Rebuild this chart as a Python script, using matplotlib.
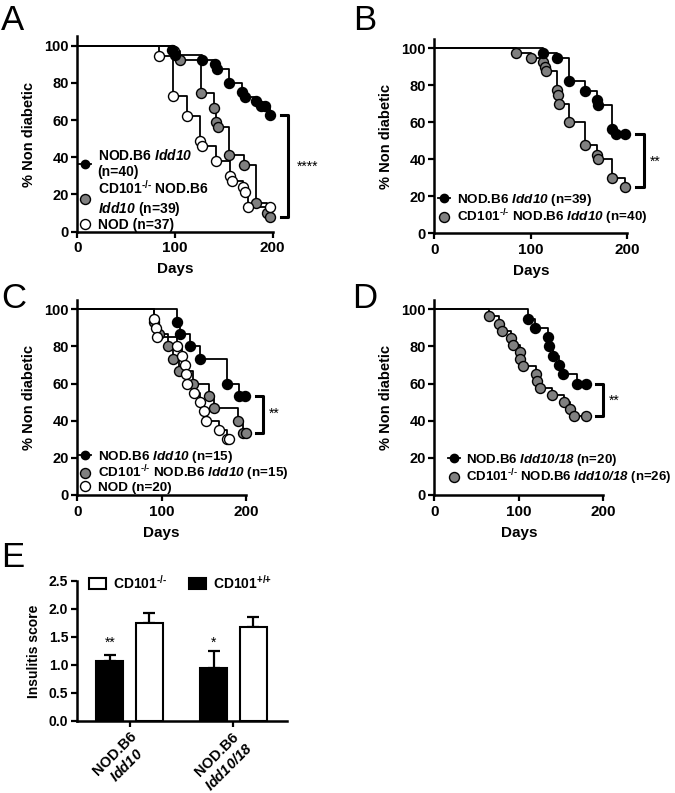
import numpy as np
import matplotlib
matplotlib.use("Agg")
from matplotlib import pyplot as plt
from matplotlib.lines import Line2D
from matplotlib.patches import Patch

plt.rcParams['font.family'] = ['Liberation Sans', 'DejaVu Sans']
plt.rcParams['font.weight'] = 'bold'
plt.rcParams['axes.labelweight'] = 'bold'
plt.rcParams['mathtext.fontset'] = 'custom'
plt.rcParams['mathtext.rm'] = 'Liberation Sans:bold'
plt.rcParams['mathtext.sf'] = 'Liberation Sans:italic:bold'
plt.rcParams['mathtext.it'] = 'Liberation Sans:italic:bold'
plt.rcParams['mathtext.bf'] = 'Liberation Sans:bold'

# Survival data: event/censor days and % non diabetic after each step
# Panel A
a_idd10_t = [97, 100, 128, 141, 143, 155, 169, 172, 183, 188, 192, 197]
a_idd10_s = [97.5, 95, 92.5, 90, 87.5, 80, 75, 72.5, 70, 67.5, 67.5, 62.5]
a_ko_t = [99, 105, 127, 140, 142, 144, 155, 171, 183, 194, 197]
a_ko_s = [97.4, 92.3, 74.4, 66.7, 59, 56.4, 41, 35.9, 15.4, 10.3, 7.7]
a_nod_t = [84, 98, 112, 126, 128, 142, 156, 158, 170, 172, 175, 197]
a_nod_s = [94.6, 73, 62.2, 48.6, 45.9, 37.8, 29.7, 27, 24.3, 21.6, 13.5, 13.5]

# Panel B
b_idd10_t = [113, 127, 140, 156, 169, 170, 184, 188, 198]
b_idd10_s = [97.4, 94.9, 82.1, 76.9, 71.8, 69.2, 56.4, 53.8, 53.8]
b_ko_t = [85, 100, 113, 115, 116, 127, 128, 129, 140, 156, 169, 170, 184, 198]
b_ko_s = [97.5, 95, 92.5, 90, 87.5, 77.5, 75, 70, 60, 47.5, 42.5, 40, 30, 25]

# Panel C
c_idd10_t = [118, 122, 134, 145, 178, 192, 199]
c_idd10_s = [93.3, 86.7, 80, 73.3, 60, 53.3, 53.3]
c_ko_t = [91, 97, 107, 113, 120, 137, 156, 162, 190, 196, 200]
c_ko_s = [93.3, 86.7, 80, 73.3, 66.7, 60, 53.3, 46.7, 40, 33.3, 33.3]
c_nod_t = [91, 93, 94, 118, 124, 128, 129, 130, 138, 146, 150, 153, 168, 177, 180]
c_nod_s = [95, 90, 85, 80, 75, 70, 65, 60, 55, 50, 45, 40, 35, 30, 30]

# Panel D
d_idd1018_t = [111, 119, 135, 136, 141, 148, 152, 169, 180]
d_idd1018_s = [95, 90, 85, 80, 75, 70, 65, 60, 60]
d_ko_t = [65, 77, 80, 91, 93, 101, 102, 105, 120, 121, 125, 139, 153, 161, 165, 180]
d_ko_s = [96.2, 92.3, 88.5, 84.6, 80.8, 76.9, 73.1, 69.2, 65.4, 61.5, 57.7, 53.8,
          50, 46.2, 42.3, 42.3]

# Panel E: insulitis score
e_groups = ["NOD.B6\n$\\mathsf{Idd10}$", "NOD.B6\n$\\mathsf{Idd10/18}$"]
e_wt = [1.08, 0.95]
e_wt_err = [0.09, 0.30]
e_ko = [1.75, 1.68]
e_ko_err = [0.18, 0.18]
e_stars = ["**", "*"]

GRAY = '#808080'
KO = "CD101$^{\\text{-/-}}$"
I10 = "$\\mathsf{Idd10}$"
I1018 = "$\\mathsf{Idd10/18}$"

W, H = 675, 793
fig = plt.figure(figsize=(W / 100, H / 100), dpi=100)


def px_axes(left, right, bottom, top):
    return fig.add_axes([left / W, 1 - bottom / H, (right - left) / W, (bottom - top) / H])


def style_km(ax):
    ax.set_xlim(0, 200)
    ax.set_ylim(0, 105)
    ax.set_xticks([0, 100, 200])
    ax.set_yticks([0, 20, 40, 60, 80, 100])
    for s in ['top', 'right']:
        ax.spines[s].set_visible(False)
    for s in ['left', 'bottom']:
        ax.spines[s].set_linewidth(1.8)
    ax.tick_params(direction='out', length=4, width=1.6)
    ax.tick_params(axis='x', labelsize=11, pad=3)
    ax.tick_params(axis='y', labelsize=10.5, pad=2)
    ax.set_xlabel("Days", fontsize=11, labelpad=5)
    ax.set_ylabel("% Non diabetic", fontsize=10.5, labelpad=6)


def km(ax, t, s, fc, z):
    ax.step([0] + t, [100] + s, where='post', color='k', lw=1.3, zorder=2)
    ax.plot(t, s, 'o', ms=7.2, mfc=fc, mec='k', mew=1, ls='none', zorder=z, clip_on=False)


def bracket(ax, x, xt, y1, y2, label, ylab, dx):
    ax.plot([xt, x, x, xt], [y1, y1, y2, y2], color='k', lw=2.2, clip_on=False)
    ax.text(x + dx, ylab, label, fontsize=10, fontweight='normal', va='center', clip_on=False)


def handle(fc):
    if fc == 'k':
        return Line2D([], [], color='k', lw=1.3, marker='o', ms=6, mfc='k', mec='k')
    return Line2D([], [], ls='none', marker='o', ms=7.2, mfc=fc, mec='k', mew=1)


def km_legend(ax, fcs, labels, bx, by, spacing, fs):
    ax.legend([handle(f) for f in fcs], labels, loc='lower left', bbox_to_anchor=(bx, by),
              frameon=False, fontsize=fs, borderpad=0, borderaxespad=0, handlelength=0.9,
              handletextpad=0.5, labelspacing=spacing)


# A
axA = px_axes(77.3, 272.7, 231.7, 36.4)
style_km(axA)
km(axA, a_ko_t, a_ko_s, GRAY, 3)
km(axA, a_idd10_t, a_idd10_s, 'k', 4)
km(axA, a_nod_t, a_nod_s, 'white', 5)
bracket(axA, 215.5, 208, 62.5, 7.7, "****", 34.8, 9)
km_legend(axA, ['k', GRAY, 'white'],
          ["NOD.B6 " + I10 + "\n(n=40)", KO + " NOD.B6\n" + I10 + " (n=39)", "NOD (n=37)"],
          0.005, 0.0, 0.0, 10)

# B
axB = px_axes(434.3, 627.3, 233.3, 39.0)
style_km(axB)
km(axB, b_ko_t, b_ko_s, GRAY, 3)
km(axB, b_idd10_t, b_idd10_s, 'k', 4)
bracket(axB, 217, 209.5, 53.8, 25, "**", 38.7, 6)
km_legend(axB, ['k', GRAY],
          ["NOD.B6 " + I10 + " (n=39)", KO + " NOD.B6 " + I10 + " (n=40)"],
          0.02, 0.03, 0.0, 9.7)

# C
axC = px_axes(77.3, 246.0, 495.0, 300.0)
style_km(axC)
km(axC, c_idd10_t, c_idd10_s, 'k', 3)
km(axC, c_ko_t, c_ko_s, GRAY, 4)
km(axC, c_nod_t, c_nod_s, 'white', 5)
bracket(axC, 220.5, 212, 53.3, 33.3, "**", 44, 7)
km_legend(axC, ['k', GRAY, 'white'],
          ["NOD.B6 " + I10 + " (n=15)", KO + " NOD.B6 " + I10 + " (n=15)", "NOD (n=20)"],
          0.012, 0.005, -0.1, 9.7)

# D
axD = px_axes(434.3, 603.3, 495.0, 300.0)
style_km(axD)
km(axD, d_ko_t, d_ko_s, GRAY, 3)
km(axD, d_idd1018_t, d_idd1018_s, 'k', 4)
bracket(axD, 199.3, 191.5, 60, 42.3, "**", 51, 7)
km_legend(axD, ['k', GRAY],
          ["NOD.B6 " + I1018 + " (n=20)", KO + " NOD.B6 " + I1018 + " (n=26)"],
          0.08, 0.04, 0.0, 9.5)

# E
axE = px_axes(76.7, 286.7, 721.0, 581.0)
x = np.arange(len(e_groups))
bw = 0.257
off = 0.19
axE.bar(x - off, e_wt, bw, color='k', edgecolor='k', lw=1.5, zorder=2)
axE.errorbar(x - off, e_wt, yerr=[np.zeros(len(x)), e_wt_err], fmt='none', ecolor='k',
             elinewidth=1.6, capsize=4.5, capthick=1.6, zorder=1)
axE.bar(x + off, e_ko, bw, color='white', edgecolor='k', lw=1.5, zorder=2)
axE.errorbar(x + off, e_ko, yerr=[np.zeros(len(x)), e_ko_err], fmt='none', ecolor='k',
             elinewidth=1.6, capsize=4.5, capthick=1.6, zorder=1)
for xi, st in zip(x, e_stars):
    axE.text(xi - off, 1.40, st, ha='center', va='center', fontsize=10, fontweight='normal')
axE.set_xlim(-0.508, 1.512)
axE.set_ylim(0, 2.5)
axE.set_yticks(np.arange(0, 2.51, 0.5))
axE.yaxis.set_major_formatter(matplotlib.ticker.FormatStrFormatter('%.1f'))
axE.set_xticks(x)
axE.set_xticklabels(e_groups, rotation=45, ha='right', rotation_mode='anchor', ma='center')
for s in ['top', 'right']:
    axE.spines[s].set_visible(False)
for s in ['left', 'bottom']:
    axE.spines[s].set_linewidth(1.8)
axE.tick_params(direction='out', length=4, width=1.6)
axE.tick_params(axis='y', labelsize=10, pad=2)
axE.tick_params(axis='x', labelsize=10.5, pad=1.5)
axE.set_ylabel("Insulitis score", fontsize=10, labelpad=6)
axE.legend([Patch(fc='white', ec='k', lw=1.5), Patch(fc='k', ec='k', lw=1.5)],
           [KO, "CD101$^{\\text{+/+}}$"], ncol=2, loc='center left', bbox_to_anchor=(0.06, 0.99),
           frameon=False, fontsize=10, borderpad=0, borderaxespad=0, handlelength=1.2,
           handleheight=0.8, handletextpad=0.5, columnspacing=1.6)

# Panel letters
for lab, xp, yp in [("A", 1, 4), ("B", 353, 4), ("C", 1, 282), ("D", 352, 282), ("E", 1, 541)]:
    fig.text(xp / W, 1 - yp / H, lab, fontsize=25, fontweight='normal', va='top', ha='left')

fig.savefig("out.png", dpi=100)
